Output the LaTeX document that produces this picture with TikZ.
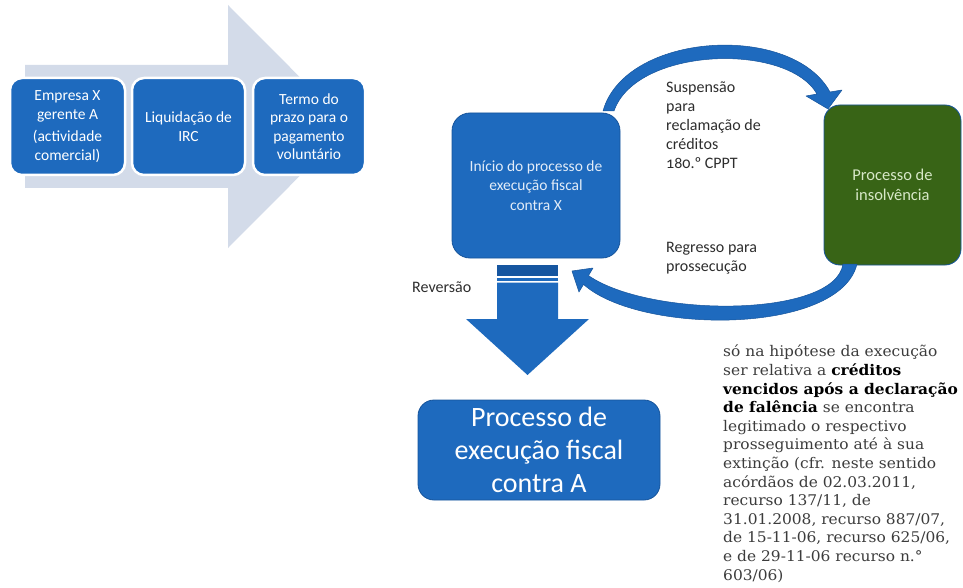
\documentclass[tikz,border=0pt]{standalone}
\usepackage{fontspec}
\setmainfont{Carlito}
\newfontfamily\labelfont[Numbers=OldStyle]{Carlito}
\newfontfamily\serifblk[FakeStretch=1.05]{DejaVu Serif}
\definecolor{boxblue}{RGB}{30,106,190}
\definecolor{boxedge}{RGB}{22,84,155}
\definecolor{lightarrow}{RGB}{211,219,233}
\definecolor{greenbox}{RGB}{56,100,22}
\definecolor{labelgrey}{RGB}{45,45,45}
\definecolor{serifgrey}{RGB}{60,60,60}
\definecolor{banddark}{RGB}{22,86,160}
\definecolor{initext}{RGB}{226,236,248}
\definecolor{greentext}{RGB}{215,232,200}
\begin{document}
\begin{tikzpicture}[x=1pt,y=-1pt,
  leftbox/.style={fill=boxblue, draw=white, line width=2.5pt, rounded corners=12pt,
    text=white, align=center, inner sep=0pt, font=\fontsize{15.5}{18.5}\selectfont},
  bigbox/.style={fill=boxblue, draw=boxedge, line width=0.8pt, rounded corners=16pt,
    align=center, inner sep=0pt},
  lbl/.style={text=labelgrey, align=left, inner sep=0pt, font=\labelfont\fontsize{16}{19}\selectfont},
  arcshape/.style={fill=boxblue, draw=boxedge, line width=0.5pt, line join=round}
]
\useasboundingbox (0,0) rectangle (963,588);

% big light arrow behind the three boxes
\fill[lightarrow] (25,65) -- (228,65) -- (228,5) -- (349,126.5) -- (228,248) -- (228,188) -- (25,188) -- cycle;

\node[leftbox, minimum width=115, minimum height=97] (b1) at (67.5,126.5)
  {Empresa X\\gerente A\\[4pt](actividade\\comercial)};
\node[leftbox, minimum width=113, minimum height=97] (b2) at (188.5,126.5)
  {Liquidação de\\IRC};
\node[leftbox, minimum width=112, minimum height=97] (b3) at (309,126.5)
  {Termo do\\prazo para o\\pagamento\\voluntário};

% right part
\node[bigbox, rounded corners=18pt, minimum width=168, minimum height=145, text=initext,
  font=\fontsize{15.5}{19.5}\selectfont] (ini) at (536,185.5)
  {Início do processo de\\execução fiscal\\contra X};
\node[bigbox, fill=greenbox, draw=boxedge, minimum width=137, minimum height=160, text=greentext,
  font=\fontsize{16.5}{20}\selectfont] (ins) at (892.5,185)
  {Processo de\\insolvência};
\node[bigbox, minimum width=242, minimum height=100, text=white,
  font=\fontsize{28}{33}\selectfont] (exa) at (539,450)
  {Processo de\\execução fiscal\\contra A};

% top curved arrow (suspension)
\path[arcshape] (603,111) .. controls (625,32) and (792,22) .. (830,92)
  -- (842,90) -- (828,109) -- (806,96) -- (817,94)
  .. controls (787,42) and (636,47) .. (614,111) -- cycle;

% bottom curved arrow (return)
\path[arcshape] (857,264) .. controls (840,335) and (640,335) .. (583.5,284.4)
  -- (579,292) -- (572,271) -- (593,268) -- (588.5,275.6)
  .. controls (650,318) and (835,318) .. (843,264) -- cycle;

% down arrow (reversão)
\fill[banddark] (497,265) rectangle (558,276);
\fill[boxblue] (497,277.5) rectangle (558,281);
\fill[boxblue] (497,282.5) -- (558,282.5) -- (558,319) -- (589,319) -- (527.5,375)
  -- (466,319) -- (497,319) -- cycle;

% labels
\node[lbl, anchor=west] (susp) at (666,125)
  {Suspensão\\para\\reclamação de\\créditos\\180.º CPPT};
\node[lbl, anchor=west] (regr) at (666,258)
  {Regresso para\\prossecução};
\node[lbl, anchor=west] (rev) at (412,287) {Reversão};

% serif note
\node[anchor=north west, inner sep=0pt, align=left, text=serifgrey,
  font=\serifblk\fontsize{14.7}{18.6}\selectfont] (nota) at (723,345)
  {só na hipótese da execução\\
   ser relativa a \textbf{\color{black}créditos}\\
   \textbf{\color{black}vencidos após a declaração}\\
   \textbf{\color{black}de falência} se encontra\\
   legitimado o respectivo\\
   prosseguimento até à sua\\
   extinção (cfr. neste sentido\\
   acórdãos de 02.03.2011,\\
   recurso 137/11, de\\
   31.01.2008, recurso 887/07,\\
   de 15-11-06, recurso 625/06,\\
   e de 29-11-06 recurso n.°\\
   603/06)};
\end{tikzpicture}
\end{document}
